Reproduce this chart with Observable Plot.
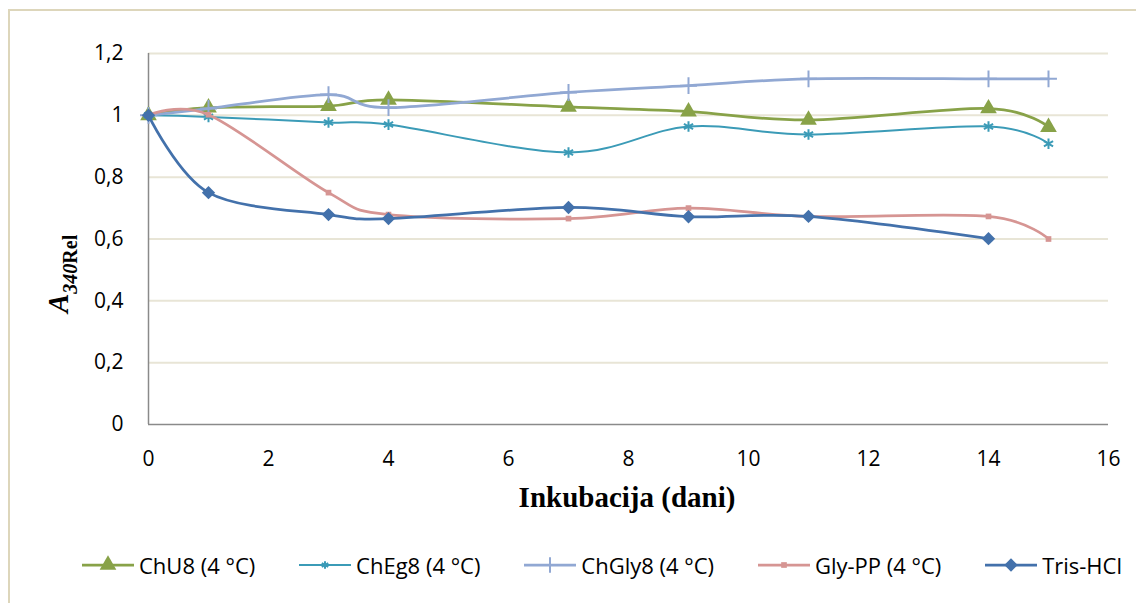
<!DOCTYPE html>
<html><head><meta charset="utf-8">
<script src="https://cdn.jsdelivr.net/npm/d3@7"></script>
<script src="https://cdn.jsdelivr.net/npm/@observablehq/plot@0.6"></script>
<style>
body{margin:0;background:#fff;}
#wrap{position:relative;width:1136px;height:603px;overflow:hidden;background:#fff;font-family:"Open Sans",sans-serif;color:#000;}
#frame{position:absolute;left:8px;top:9px;width:1200px;height:700px;border-top:2px solid #ddd6bb;border-left:2px solid #ddd6bb;box-sizing:border-box;}
#chart{position:absolute;left:0;top:0;}
#legend{position:absolute;top:550px;left:82px;width:1040px;display:flex;justify-content:space-between;align-items:center;white-space:nowrap;font-size:22px;}
.item{display:flex;align-items:center;}
.item span{margin-left:5px;}
</style></head>
<body>
<div id="wrap"><div id="frame"></div><div id="chart"></div><div id="legend"></div></div>
<script>
const days = [0, 1, 3, 4, 7, 9, 11, 14, 15];
const trisDays = [0, 1, 3, 4, 7, 9, 11, 14];
const chU8 = [1.0, 1.025, 1.03, 1.05, 1.027, 1.012, 0.985, 1.022, 0.962];
const chEg8 = [1.0, 0.995, 0.977, 0.970, 0.880, 0.964, 0.938, 0.964, 0.908];
const chGly8 = [1.0, 1.022, 1.067, 1.025, 1.074, 1.096, 1.118, 1.118, 1.118];
const glyPP = [1.0, 1.002, 0.750, 0.679, 0.666, 0.700, 0.673, 0.673, 0.600];
const trisHCl = [1.0, 0.750, 0.679, 0.666, 0.702, 0.672, 0.673, 0.601];
const seriesNames = ["ChU8 (4 °C)", "ChEg8 (4 °C)", "ChGly8 (4 °C)", "Gly-PP (4 °C)", "Tris-HCl"];
const xTicks = [0, 2, 4, 6, 8, 10, 12, 14, 16];
const yTicks = [0, 0.2, 0.4, 0.6, 0.8, 1, 1.2];
const xTitle = "Inkubacija (dani)";

const seriesData = [
  {name: seriesNames[0], x: days, y: chU8, color: "#88a248", symbol: "triangle", r: 6.2, sw: 2.75, kind: "fill"},
  {name: seriesNames[1], x: days, y: chEg8, color: "#3b9bb7", symbol: "asterisk", r: 5, sw: 2, kind: "stroke"},
  {name: seriesNames[2], x: days, y: chGly8, color: "#91a8d3", symbol: "plus", r: 5.5, sw: 2.75, kind: "stroke"},
  {name: seriesNames[3], x: days, y: glyPP, color: "#d69593", symbol: "square", r: 3.2, sw: 2.75, kind: "fill"},
  {name: seriesNames[4], x: trisDays, y: trisHCl, color: "#4371ab", symbol: "diamond2", r: 6, sw: 2.75, kind: "fill"}
];

const marks = [
  Plot.gridY(yTicks.filter(d => d > 0), {stroke: "#e8e5d6", strokeOpacity: 1, strokeWidth: 2}),
  Plot.ruleX([0], {stroke: "#8a8a8a", strokeWidth: 1.5}),
  Plot.ruleY([0], {stroke: "#8a8a8a", strokeWidth: 1.5}),
  Plot.axisX({ticks: xTicks, tickSize: 0, tickPadding: 27, fontSize: 21, tickFormat: d => String(d), label: null}),
  Plot.axisY({ticks: yTicks, tickSize: 0, tickPadding: 25, fontSize: 21, tickFormat: d => String(d).replace(".", ","), label: null})
];
for (const s of seriesData) {
  const rows = s.x.map((d, i) => ({day: d, value: s.y[i]}));
  marks.push(Plot.line(rows, {x: "day", y: "value", stroke: s.color, strokeWidth: s.sw, curve: "cardinal"}));
  const dotOpts = {x: "day", y: "value", symbol: s.symbol, r: s.r};
  if (s.kind === "fill") { dotOpts.fill = s.color; dotOpts.stroke = "none"; }
  else { dotOpts.stroke = s.color; dotOpts.strokeWidth = 2; dotOpts.fill = "none"; }
  marks.push(Plot.dot(rows, dotOpts));
}

const chart = Plot.plot({
  width: 1136, height: 530,
  marginLeft: 148, marginRight: 28, marginTop: 53, marginBottom: 106,
  x: {domain: [0, 16]},
  y: {domain: [0, 1.2]},
  style: {fontFamily: "'Open Sans', sans-serif", fontSize: "21px", color: "#000", background: "transparent", overflow: "visible"},
  marks
});
document.getElementById("chart").appendChild(chart);

const svg = d3.select(chart);
svg.append("text")
  .attr("x", 627).attr("y", 507)
  .attr("text-anchor", "middle")
  .style("font", "bold 29px 'Liberation Serif', serif")
  .attr("fill", "#000")
  .text(xTitle);
const yt = svg.append("text")
  .attr("transform", "translate(68,313) rotate(-90)")
  .attr("text-anchor", "start")
  .attr("fill", "#000")
  .style("font-family", "'Liberation Serif', serif");
yt.append("tspan").style("font-style", "italic").style("font-weight", "bold").style("font-size", "29px").text("A");
yt.append("tspan").attr("dy", 9).style("font-style", "italic").style("font-weight", "bold").style("font-size", "20px").text("340");
yt.append("tspan").style("font-weight", "bold").style("font-size", "20px").text("Rel");

const legend = d3.select("#legend");
const symMap = {triangle: d3.symbolTriangle, asterisk: d3.symbolAsterisk, plus: d3.symbolPlus, square: d3.symbolSquare, diamond2: d3.symbolDiamond2};
for (const s of seriesData) {
  const it = legend.append("div").attr("class", "item");
  const sv = it.append("svg").attr("width", 52).attr("height", 20);
  sv.append("line").attr("x1", 0).attr("x2", 52).attr("y1", 10).attr("y2", 10)
    .attr("stroke", s.color).attr("stroke-width", s.sw);
  const rr = s.symbol === "asterisk" ? 3.5 : s.symbol === "plus" ? 5 : s.r;
  const p = sv.append("path").attr("transform", "translate(26,10)")
    .attr("d", d3.symbol(symMap[s.symbol], Math.PI * rr * rr)());
  if (s.kind === "fill") p.attr("fill", s.color); else p.attr("fill", "none").attr("stroke", s.color).attr("stroke-width", 2);
  it.append("span").text(s.name);
}
</script>
</body></html>
